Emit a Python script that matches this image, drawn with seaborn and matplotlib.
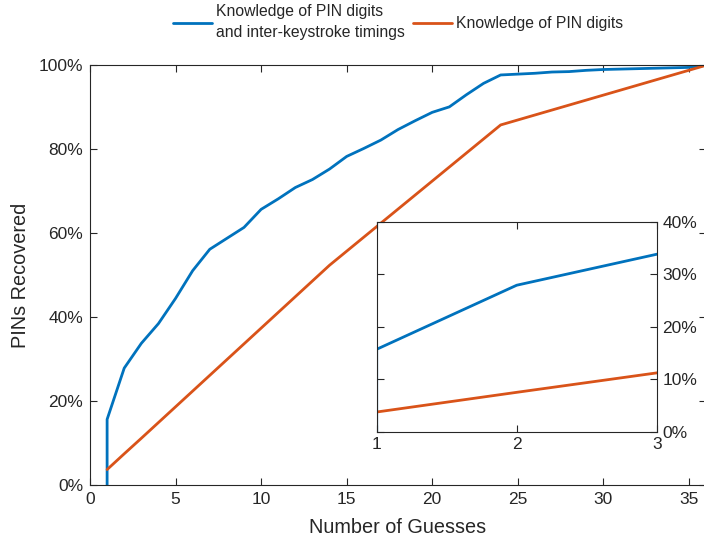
import matplotlib
matplotlib.use('Agg')
import matplotlib.pyplot as plt
from matplotlib.ticker import PercentFormatter
import pandas as pd
import seaborn as sns

# guesses vs. share of PINs recovered (%)
guesses_timing = [1, 1, 2, 3, 4, 5, 6, 7, 8, 9, 10, 11, 12, 13, 14, 15, 16, 17, 18,
                  19, 20, 21, 22, 23, 24, 25, 26, 27, 28, 29, 30, 31, 32, 33, 34, 35, 36]
recovered_timing = [0, 15.7, 27.9, 33.8, 38.5, 44.5, 51.1, 56.2, 58.8, 61.4, 65.7,
                    68.2, 70.9, 72.8, 75.3, 78.3, 80.2, 82.2, 84.7, 86.8, 88.8, 90.1,
                    93.0, 95.7, 97.7, 97.9, 98.1, 98.4, 98.5, 98.8, 99.0, 99.1, 99.2,
                    99.3, 99.4, 99.5, 100]
guesses_digits = [1, 2, 3, 14, 24, 36]
recovered_digits = [3.75, 7.5, 11.2, 52.4, 85.8, 100]

label_timing = 'Knowledge of PIN digits\nand inter-keystroke timings'
label_digits = 'Knowledge of PIN digits'
blue = '#0072BD'
orange = '#D95319'
dark = '#262626'

df_timing = pd.DataFrame({'guesses': guesses_timing, 'recovered': recovered_timing})
df_digits = pd.DataFrame({'guesses': guesses_digits, 'recovered': recovered_digits})

sns.set_style('ticks')
plt.rcParams['font.family'] = ['Liberation Sans', 'DejaVu Sans']
plt.rcParams['axes.edgecolor'] = dark
plt.rcParams['xtick.color'] = dark
plt.rcParams['ytick.color'] = dark
plt.rcParams['axes.labelcolor'] = dark

fig = plt.figure(figsize=(7.04, 5.44), dpi=100)
ax = fig.add_axes([90 / 704, 1 - 485.3 / 544, 616 / 704, 420 / 544])


def draw(a):
    sns.lineplot(data=df_timing, x='guesses', y='recovered', ax=a, color=blue,
                 linewidth=2.0, estimator=None, sort=False, label=label_timing)
    sns.lineplot(data=df_digits, x='guesses', y='recovered', ax=a, color=orange,
                 linewidth=2.0, estimator=None, sort=False, label=label_digits)


draw(ax)
ax.set_xlim(0, 36)
ax.set_ylim(0, 100)
ax.set_xticks(range(0, 36, 5))
ax.set_yticks(range(0, 101, 20))
ax.yaxis.set_major_formatter(PercentFormatter(100, decimals=0))
ax.tick_params(direction='in', top=True, right=True, length=5, width=0.8,
               labelsize=12.5, pad=5)
ax.set_xlabel('Number of Guesses', fontsize=14.3, labelpad=8)
ax.set_ylabel('PINs Recovered', fontsize=14.3, labelpad=6)
for s in ax.spines.values():
    s.set_linewidth(0.8)
leg = ax.legend(loc='center', bbox_to_anchor=(0.5, 1.103), ncol=2, frameon=False,
                fontsize=11.3, handlelength=2.5, handletextpad=0.25, columnspacing=0.55)
for t in leg.get_texts():
    t.set_linespacing(1.45)

# zoomed inset for the first three guesses
ins = fig.add_axes([376.7 / 704, 1 - 431.7 / 544, 280 / 704, 210 / 544])
ins.set_facecolor('white')
draw(ins)
ins.get_legend().remove()
ins.set_xlim(1, 3)
ins.set_ylim(0, 40)
ins.set_xticks([1, 2, 3])
ins.set_yticks(range(0, 41, 10))
ins.yaxis.set_major_formatter(PercentFormatter(100, decimals=0))
ins.yaxis.tick_right()
ins.tick_params(direction='in', top=True, left=True, right=True, labelleft=False,
                labelright=True, length=5, width=0.8, labelsize=12.5, pad=4)
ins.set_xlabel('')
ins.set_ylabel('')
for s in ins.spines.values():
    s.set_linewidth(0.8)

fig.savefig('out.png', dpi=100)
